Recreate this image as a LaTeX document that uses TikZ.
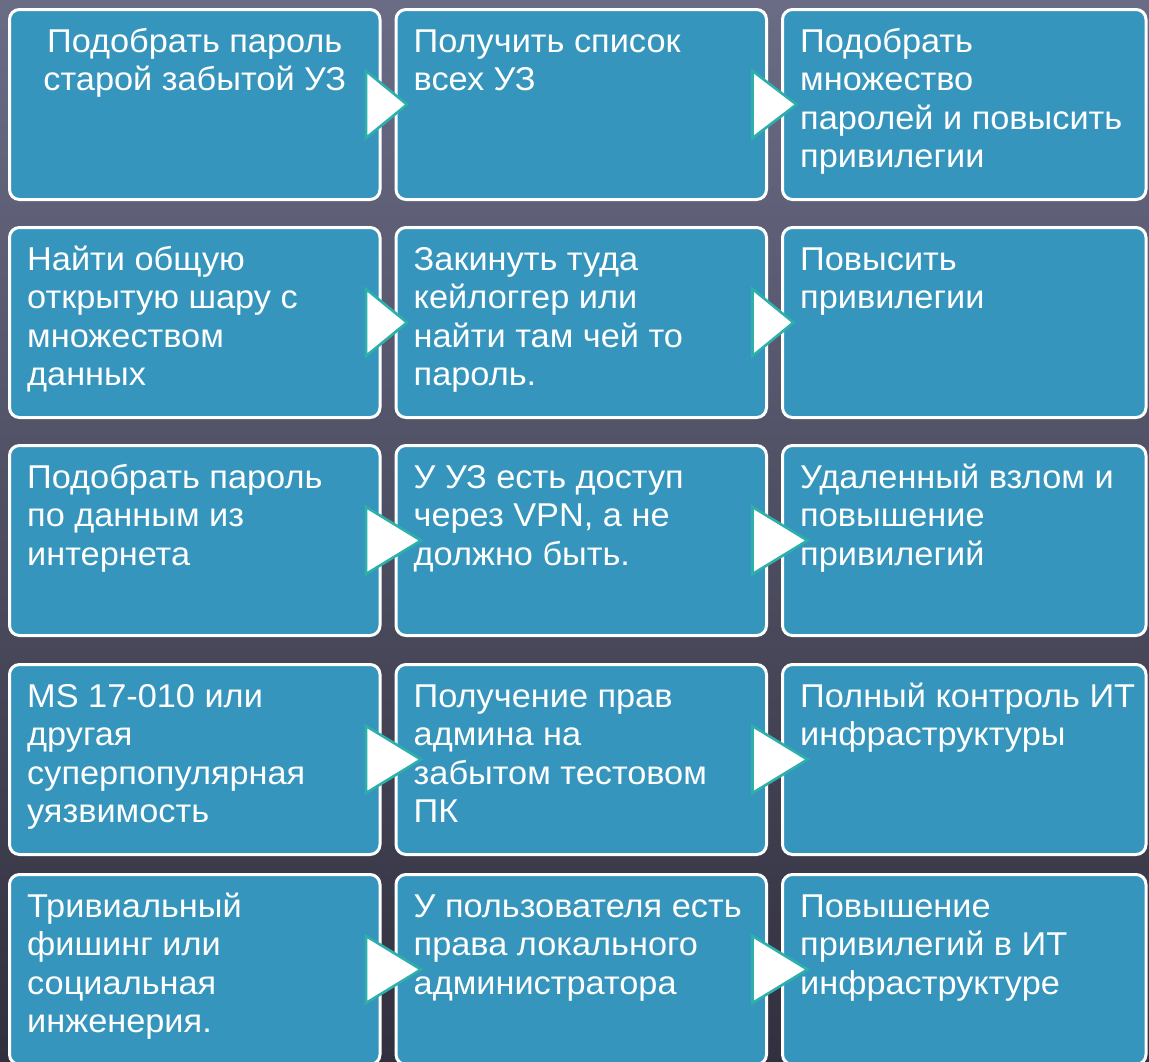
\documentclass[tikz,border=0pt]{standalone}
\usepackage{fontspec}
\setmainfont[FakeStretch=1.04]{Liberation Sans}
\usepackage{tikz}
\usetikzlibrary{positioning}
\usetikzlibrary{calc}

\definecolor{bgtop}{HTML}{6A6C86}
\definecolor{bgbot}{HTML}{32303E}
\definecolor{cellblue}{HTML}{3595BC}
\definecolor{flowteal}{HTML}{2DB0AC}

\tikzset{
  cell/.style={draw=white, line width=3pt, fill=cellblue, rounded corners=10pt,
    minimum width=370.5pt, minimum height=190pt, inner sep=0pt},
  cellend/.style={cell, minimum width=363.5pt},
  txt/.style={text=white, inner sep=0pt, align=left, anchor=north west,
    font=\fontsize{33}{38.5}\selectfont},
  flowtri/.style={draw=flowteal, line width=2.6pt, fill=white}
}

\newcommand{\stepflow}[2]{%
  \draw[flowtri] ($(#1.east)+(-15.5,-33.5)$) -- ($(#1.east)+(#2-15.5,0)$)
    -- ($(#1.east)+(-15.5,33.5)$) -- cycle;}

\begin{document}
\begin{tikzpicture}[x=1pt, y=-1pt]
\useasboundingbox (0,0) rectangle (1149,1061);
\shade[top color=bgtop, bottom color=bgbot] (0,0) rectangle (1149,1061);
\clip (0,0) rectangle (1149,1061);

\node[cell, anchor=north west] (b11) at (8,8) {};
\node[cell, right=13pt of b11] (b12) {};
\node[cellend, right=13pt of b12] (b13) {};
\node[cell, below=25pt of b11] (b21) {};
\node[cell, right=13pt of b21] (b22) {};
\node[cellend, right=13pt of b22] (b23) {};
\node[cell, below=25pt of b21] (b31) {};
\node[cell, right=13pt of b31] (b32) {};
\node[cellend, right=13pt of b32] (b33) {};
\node[cell, below=26pt of b31] (b41) {};
\node[cell, right=13pt of b41] (b42) {};
\node[cellend, right=13pt of b42] (b43) {};
\node[cell, below=17pt of b41] (b51) {};
\node[cell, right=13pt of b51] (b52) {};
\node[cellend, right=13pt of b52] (b53) {};

\node[txt, anchor=north, align=center] (t11) at ([shift={(0,17)}]b11.north) {\strut Подобрать пароль\\старой забытой УЗ};
\node[txt] (t12) at ([shift={(19,17)}]b12.north west) {\strut Получить список\\всех УЗ};
\node[txt] (t13) at ([shift={(19,17)}]b13.north west) {\strut Подобрать\\множество\\паролей и повысить\\привилегии};
\node[txt] (t21) at ([shift={(19,17)}]b21.north west) {\strut Найти общую\\открытую шару с\\множеством\\данных};
\node[txt] (t22) at ([shift={(19,17)}]b22.north west) {\strut Закинуть туда\\кейлоггер или\\найти там чей то\\пароль.};
\node[txt] (t23) at ([shift={(19,17)}]b23.north west) {\strut Повысить\\привилегии};
\node[txt] (t31) at ([shift={(19,17)}]b31.north west) {\strut Подобрать пароль\\по данным из\\интернета};
\node[txt] (t32) at ([shift={(19,17)}]b32.north west) {\strut У УЗ есть доступ\\через VPN, а не\\должно быть.};
\node[txt] (t33) at ([shift={(19,17)}]b33.north west) {\strut Удаленный взлом и\\повышение\\привилегий};
\node[txt] (t41) at ([shift={(19,17)}]b41.north west) {\strut MS 17-010 или\\другая\\суперпопулярная\\уязвимость};
\node[txt] (t42) at ([shift={(19,17)}]b42.north west) {\strut Получение прав\\админа на\\забытом тестовом\\ПК};
\node[txt] (t43) at ([shift={(19,17)}]b43.north west) {\strut Полный контроль ИТ\\инфраструктуры};
\node[txt] (t51) at ([shift={(19,17)}]b51.north west) {\strut Тривиальный\\фишинг или\\социальная\\инженерия.};
\node[txt] (t52) at ([shift={(19,17)}]b52.north west) {\strut У пользователя есть\\права локального\\администратора};
\node[txt] (t53) at ([shift={(19,17)}]b53.north west) {\strut Повышение\\привилегий в ИТ\\инфраструктуре};

\stepflow{b11}{41}
\stepflow{b12}{44}
\stepflow{b21}{41}
\stepflow{b22}{41}
\stepflow{b31}{55}
\stepflow{b32}{55}
\stepflow{b41}{55}
\stepflow{b42}{55}
\stepflow{b51}{55}
\stepflow{b52}{55}
\end{tikzpicture}
\end{document}
